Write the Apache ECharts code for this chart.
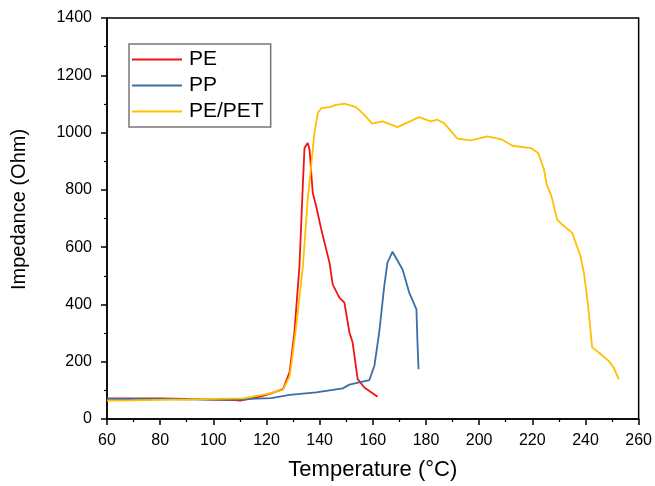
<!DOCTYPE html>
<html>
<head>
<meta charset="utf-8">
<script src="https://cdn.jsdelivr.net/npm/echarts@6/dist/echarts.min.js"></script>
<style>
  html, body { margin: 0; padding: 0; background: #fff; }
  #main { width: 655px; height: 486px; }
</style>
</head>
<body>
<div id="main"></div>
<script>
// readings: [temperature °C, impedance Ohm]
var pe = [
  [60, 72], [70, 72], [80, 72], [90, 70], [100, 68], [108, 66], [110, 64],
  [113.7, 70], [118.6, 81], [122, 90], [126.2, 104], [128.7, 164], [130.5, 302],
  [132.4, 534], [133.7, 825], [134.3, 946], [135.5, 964], [136.2, 940],
  [137.4, 790], [138.7, 743], [140.6, 662], [143.7, 546], [144.9, 470],
  [147.4, 424], [149.3, 406], [151.2, 302], [152.4, 267], [154.3, 139],
  [156.8, 110], [161.8, 78]
];
var pp = [
  [60, 70], [70, 70], [80, 70], [90, 69], [100, 68], [110, 68], [113.7, 70],
  [121.8, 73], [128.7, 84], [138.7, 93], [148.7, 107], [151.2, 120],
  [154.9, 128], [158.7, 136], [160.6, 186], [162.4, 302], [164.3, 464],
  [165.5, 546], [167.4, 584], [171.2, 522], [173.7, 441], [176.4, 383],
  [176.8, 267], [177.2, 174]
];
var pePet = [
  [60, 64], [70, 65], [80, 67], [90, 68], [100, 70], [111.2, 72], [119.9, 87],
  [126.2, 102], [128.7, 150], [129.3, 186], [131.2, 325], [133.7, 534],
  [135.5, 766], [136.8, 882], [138, 998], [139.3, 1068], [140.6, 1085],
  [143.7, 1089], [146.2, 1097], [149.3, 1101], [153.7, 1089], [156.8, 1062],
  [159.7, 1031], [163.7, 1039], [169.3, 1019], [177.4, 1054], [181.8, 1039],
  [184.3, 1045], [186.8, 1033], [191.8, 979], [196.8, 973], [203.1, 987],
  [208.7, 975], [212.5, 954], [219.4, 946], [222.2, 929], [224.4, 871],
  [225.4, 819], [227.2, 778], [229.3, 697], [231.2, 679], [235, 650],
  [238.1, 569], [239.4, 511], [241, 395], [242.5, 250], [245, 232],
  [248.7, 203], [250.6, 180], [252.5, 139]
];
var seriesNames = ['PE', 'PP', 'PE/PET'];
var seriesColors = ['#f01414', '#3c6ea6', '#ffc000'];

var chart = echarts.init(document.getElementById('main'));
var font = 'Liberation Sans, Arial, sans-serif';

chart.setOption({
  animation: false,
  grid: {
    left: 107, right: 15, top: 18, bottom: 66,
    show: true, borderColor: '#000', borderWidth: 1.5
  },
  legend: {
    orient: 'vertical',
    left: 129, top: 44,
    itemWidth: 50, itemHeight: 14, itemGap: 5,
    padding: [5, 7, 5, 3],
    borderColor: '#777', borderWidth: 1.5,
    icon: 'path://M0,6 L50,6 L50,8 L0,8 Z',
    textStyle: { fontFamily: font, fontSize: 21, color: '#000', padding: [0, 0, 0, 2] },
    data: seriesNames
  },
  xAxis: {
    type: 'value', min: 60, max: 260, interval: 20,
    name: 'Temperature (°C)', nameLocation: 'middle', nameGap: 40,
    nameTextStyle: { fontFamily: font, fontSize: 22, color: '#000' },
    axisLine: { lineStyle: { color: '#000', width: 1.5 } },
    axisTick: { length: 6, lineStyle: { color: '#000', width: 1.5 } },
    minorTick: { show: true, splitNumber: 2, length: 3, lineStyle: { color: '#000', width: 1.2 } },
    axisLabel: { fontFamily: font, fontSize: 16, color: '#000', margin: 14 },
    splitLine: { show: false }
  },
  yAxis: {
    type: 'value', min: 0, max: 1400, interval: 200,
    name: 'Impedance (Ohm)', nameLocation: 'middle', nameGap: 78,
    nameTextStyle: { fontFamily: font, fontSize: 20, color: '#000', padding: [0, 0, 0, 18] },
    axisLine: { lineStyle: { color: '#000', width: 1.5 } },
    axisTick: { length: 6, lineStyle: { color: '#000', width: 1.5 } },
    minorTick: { show: true, splitNumber: 2, length: 3, lineStyle: { color: '#000', width: 1.2 } },
    axisLabel: {
      fontFamily: font, fontSize: 16, color: '#000', margin: 15,
      formatter: function (v) { return String(v); }
    },
    splitLine: { show: false }
  },
  series: [pe, pp, pePet].map(function (d, i) {
    return {
      name: seriesNames[i], type: 'line', data: d,
      showSymbol: false, symbol: 'none',
      lineStyle: { color: seriesColors[i], width: 1.8 },
      itemStyle: { color: seriesColors[i] }
    };
  })
});
</script>
</body>
</html>
